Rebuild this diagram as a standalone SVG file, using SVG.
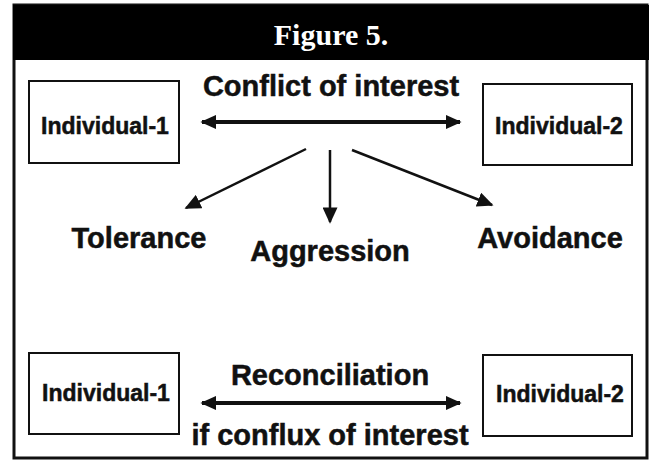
<svg xmlns="http://www.w3.org/2000/svg" width="656" height="461" viewBox="0 0 656 461">
<defs>
<style>
.box{fill:#fff;stroke:#111;stroke-width:2}
.lbl{font-family:"Liberation Sans",Arial,sans-serif;font-weight:bold;fill:#111;stroke:#111;stroke-width:0.5;text-anchor:middle}
.n{font-size:23px}
.t{font-size:29px}
.c{stroke:#111;stroke-width:4;fill:none}
.a{stroke:#111;stroke-width:2.5;fill:none}
</style>
<marker id="ah" viewBox="0 0 10 10" refX="9" refY="5" markerWidth="4" markerHeight="3.6" orient="auto-start-reverse" markerUnits="strokeWidth" preserveAspectRatio="none"><path d="M0,0 L10,5 L0,10 z" fill="#111"/></marker>
<marker id="ah2" viewBox="0 0 10 10" refX="9" refY="5" markerWidth="6.5" markerHeight="6" orient="auto" markerUnits="strokeWidth" preserveAspectRatio="none"><path d="M0,0 L10,5 L0,10 z" fill="#111"/></marker>
</defs>
<rect x="0" y="0" width="656" height="461" fill="#fff"/>
<rect x="14" y="5" width="633" height="453" fill="#fff" stroke="#111" stroke-width="3"/>
<g id="header">
<rect x="13" y="5" width="636" height="55" fill="#000"/>
<text x="331" y="45" font-family="Liberation Serif,'Times New Roman',serif" font-weight="bold" font-size="30" fill="#fff" text-anchor="middle">Figure 5.</text>
</g>
<g id="ind1-top"><rect class="box" x="29" y="81" width="150" height="82"/><text class="lbl n" x="105" y="134">Individual-1</text></g>
<g id="ind2-top"><rect class="box" x="483" y="84" width="149" height="81"/><text class="lbl n" x="559" y="134">Individual-2</text></g>
<g id="ind1-bot"><rect class="box" x="29" y="353" width="150" height="81"/><text class="lbl n" x="106" y="401">Individual-1</text></g>
<g id="ind2-bot"><rect class="box" x="483" y="355" width="149" height="81"/><text class="lbl n" x="560" y="402">Individual-2</text></g>
<g id="labels">
<text class="lbl t" x="331" y="96">Conflict of interest</text>
<text class="lbl t" x="139" y="248">Tolerance</text>
<text class="lbl t" x="330" y="261">Aggression</text>
<text class="lbl t" x="550" y="248">Avoidance</text>
<text class="lbl t" x="330" y="385">Reconciliation</text>
<text class="lbl t" x="330" y="445">if conflux of interest</text>
</g>
<g id="connectors">
<line class="c" x1="202" y1="122" x2="460" y2="122" marker-start="url(#ah)" marker-end="url(#ah)"/>
<line class="c" x1="202" y1="403" x2="460" y2="403" marker-start="url(#ah)" marker-end="url(#ah)"/>
<line class="a" x1="306" y1="149" x2="186" y2="208" marker-end="url(#ah2)"/>
<line class="a" x1="330" y1="150" x2="330" y2="222" marker-end="url(#ah2)"/>
<line class="a" x1="352" y1="150" x2="492" y2="205" marker-end="url(#ah2)"/>
</g>
</svg>
